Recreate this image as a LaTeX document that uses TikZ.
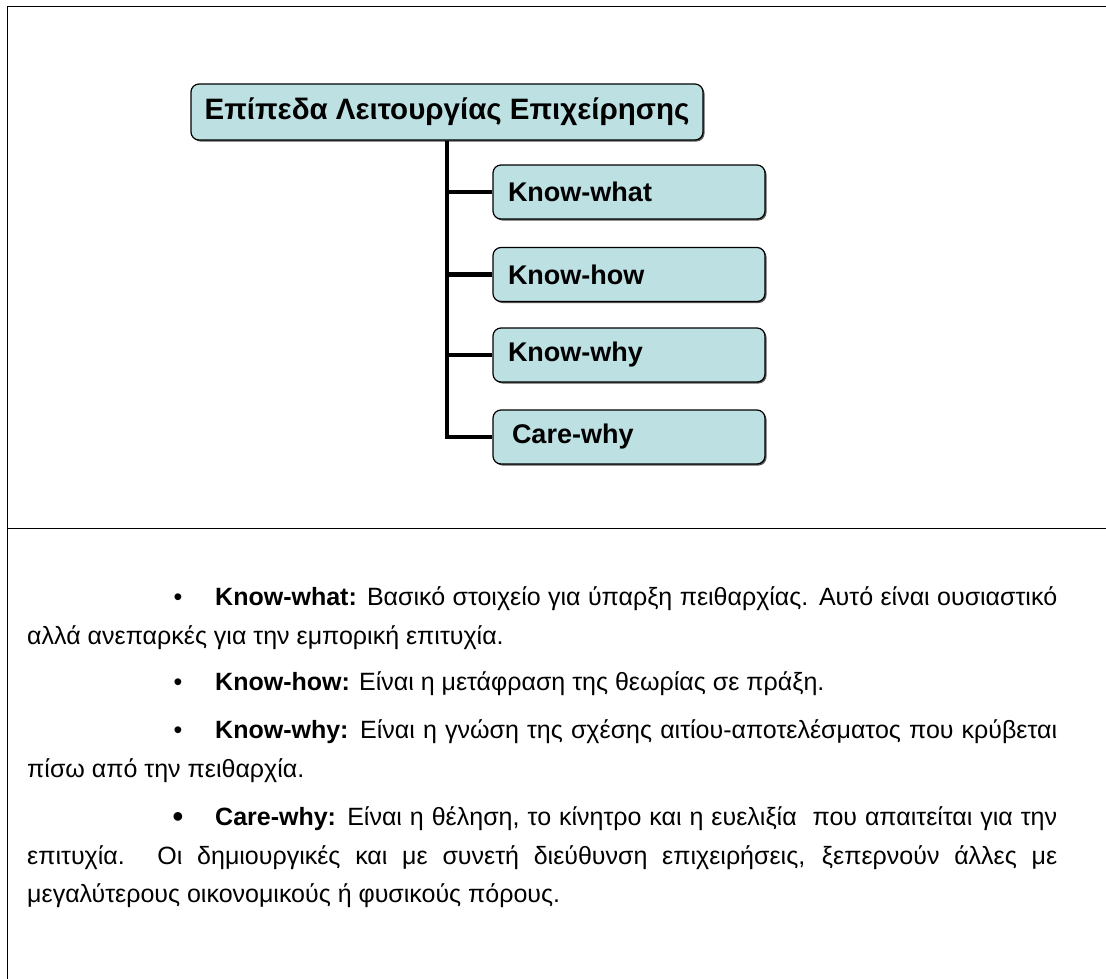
\documentclass[tikz,border=0pt]{standalone}
\usepackage{fontspec}
\setmainfont{Liberation Sans}
\usetikzlibrary{shadows}
\definecolor{boxfill}{RGB}{189,224,227}
\begin{document}
\begin{tikzpicture}[x=1pt,y=-1pt,
  frameline/.style={line width=1.5pt, line cap=rect},
  levelbox/.style={draw, line width=1.2pt, rounded corners=8pt, fill=boxfill,
    drop shadow={shadow xshift=1.5pt, shadow yshift=-1.5pt, fill=black!65, opacity=1},
    inner sep=0pt},
  titlebox/.style={levelbox, minimum width=512pt, minimum height=56pt,
    font=\fontsize{29.5}{32}\selectfont\bfseries},
  itembox/.style={levelbox, minimum width=272pt, minimum height=54pt,
    text width=242pt, align=left, font=\fontsize{27}{29}\selectfont\bfseries},
  tree/.style={line width=4.5pt, line join=miter},
  bodytext/.style={anchor=base west, inner sep=0pt, font=\fontsize{25}{28}\selectfont},
  bulletmark/.style={anchor=base, inner sep=0pt, font=\fontsize{25}{28}\selectfont}
]
\useasboundingbox (0,0) rectangle (1106,978);

% outer frame and divider
\draw[frameline] (7.5,978) -- (7.5,6.5) -- (1106,6.5);
\draw[frameline] (7.5,528.5) -- (1106,528.5);

% hierarchy
\node[titlebox] (top) at (447,112) {Επίπεδα Λειτουργίας Επιχείρησης};
\node[itembox] (kwhat) at (629,192) {Know-what};
\node[itembox] (khow) at (629,274.5) {Know-how};
\node[itembox] (kwhy) at (629,355) {Know-why};
\node[itembox] (cwhy) at (629,437) {\hspace{4pt}Care-why};

\draw[tree] (top.south) -- (top.south |- cwhy.west) -- (cwhy.west);
\draw[tree] (top.south |- kwhat.west) -- (kwhat.west);
\draw[tree] (top.south |- khow.west) -- (khow.west);
\draw[tree] (top.south |- kwhy.west) -- (kwhy.west);

% descriptions
\node[bulletmark] (b1) at (178,605) {•};
\node[bodytext] (t1a) at (215,605) {\makebox[842pt][s]{\textbf{Know-what:} Βασικό στοιχείο για ύπαρξη πειθαρχίας. Αυτό είναι ουσιαστικό}};
\node[bodytext] (t1b) at (27,644) {αλλά ανεπαρκές για την εμπορική επιτυχία.};

\node[bulletmark] (b2) at (178,690) {•};
\node[bodytext] (t2) at (215,690) {\textbf{Know-how:} Είναι η μετάφραση της θεωρίας σε πράξη.};

\node[bulletmark] (b3) at (178,738) {•};
\node[bodytext] (t3a) at (215,738) {\makebox[842pt][s]{\textbf{Know-why:} Είναι η γνώση της σχέσης αιτίου-αποτελέσματος που κρύβεται}};
\node[bodytext] (t3b) at (27,777) {πίσω από την πειθαρχία.};

\node[bulletmark, font=\fontsize{32}{34}\selectfont] (b4) at (178,827) {•};
\node[bodytext] (t4a) at (215,825) {\makebox[842pt][s]{\textbf{Care-why:} Είναι η θέληση, το κίνητρο και η ευελιξία\ \ που απαιτείται για την}};
\node[bodytext] (t4b) at (27,864) {\makebox[1030pt][s]{επιτυχία. Οι δημιουργικές και με συνετή διεύθυνση επιχειρήσεις, ξεπερνούν άλλες με}};
\node[bodytext] (t4c) at (27,902) {μεγαλύτερους οικονομικούς ή φυσικούς πόρους.};
\end{tikzpicture}
\end{document}
